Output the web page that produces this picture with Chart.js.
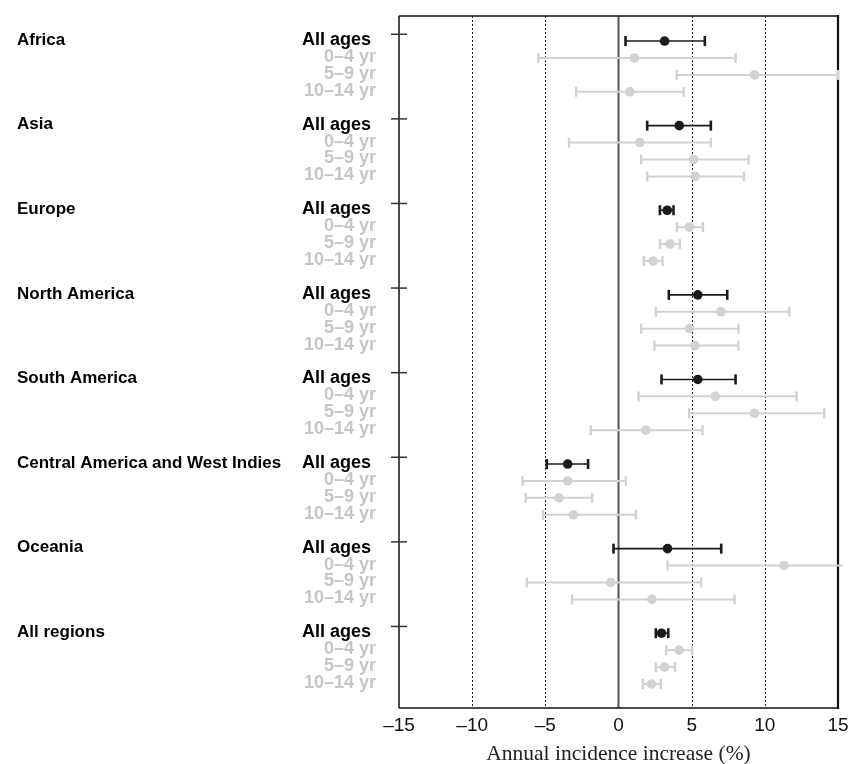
<!DOCTYPE html>
<html>
<head>
<meta charset="utf-8">
<script src="https://cdn.jsdelivr.net/npm/chart.js@4.4.1/dist/chart.umd.min.js"></script>
<style>
  html, body { margin: 0; padding: 0; background: #fff; }
  #wrap { width: 850px; height: 764px; position: relative; }
</style>
</head>
<body>
<div id="wrap"><canvas id="myChart" width="850" height="764"></canvas></div>
<script>
// regions top to bottom, and the age rows inside each region
const regions = ['Africa', 'Asia', 'Europe', 'North America', 'South America',
  'Central America and West Indies', 'Oceania', 'All regions'];
const ageGroups = ['All ages', '0–4 yr', '5–9 yr', '10–14 yr'];

// annual incidence increase (%) with 95% CI, one value per region
const allAgesEst  = [3.15, 4.15, 3.33, 5.42, 5.42, -3.47, 3.35, 2.94];
const allAgesLow  = [0.48, 1.96, 2.83, 3.44, 2.94, -4.90, -0.34, 2.55];
const allAgesHigh = [5.90, 6.31, 3.76, 7.43, 8.00, -2.08, 7.02, 3.40];

const age0to4Est  = [1.09, 1.46, 4.85, 7.00, 6.61, -3.47, 11.31, 4.15];
const age0to4Low  = [-5.47, -3.38, 3.99, 2.55, 1.37, -6.55, 3.35, 3.26];
const age0to4High = [8.00, 6.31, 5.77, 11.67, 12.17, 0.50, 15.35, 5.04];

const age5to9Est  = [9.30, 5.13, 3.53, 4.85, 9.30, -4.06, -0.53, 3.15];
const age5to9Low  = [3.97, 1.55, 2.83, 1.55, 4.83, -6.34, -6.27, 2.55];
const age5to9High = [15.00, 8.89, 4.19, 8.20, 14.06, -1.80, 5.65, 3.85];

const age10to14Est  = [0.77, 5.24, 2.37, 5.22, 1.87, -3.08, 2.28, 2.26];
const age10to14Low  = [-2.90, 1.96, 1.73, 2.46, -1.89, -5.16, -3.17, 1.66];
const age10to14High = [4.45, 8.57, 3.01, 8.20, 5.74, 1.18, 7.93, 2.89];

const xTicks = [-15, -10, -5, 0, 5, 10, 15];

const BLACK = '#1b1b1b';
const GREY = '#d2d2d2';
const ROWS_PER_REGION = 5; // 4 age rows + one blank row

function rows(est, low, high, ageIdx) {
  return est.map((v, g) => ({ x: v, y: g * ROWS_PER_REGION + ageIdx, lo: low[g], hi: high[g] }));
}

const greyData = [].concat(
  rows(age0to4Est, age0to4Low, age0to4High, 1),
  rows(age5to9Est, age5to9Low, age5to9High, 2),
  rows(age10to14Est, age10to14Low, age10to14High, 3)
);
const blackData = rows(allAgesEst, allAgesLow, allAgesHigh, 0);

// frame, grid lines, the little y ticks and the error bars
const backdrop = {
  id: 'backdrop',
  beforeDatasetsDraw(chart) {
    const { ctx, chartArea: a, scales: { x, y } } = chart;
    ctx.save();
    // dotted grid lines
    ctx.strokeStyle = '#222';
    ctx.lineWidth = 1;
    ctx.setLineDash([2, 2]);
    [-10, -5, 5, 10].forEach(v => {
      const px = Math.round(x.getPixelForValue(v)) + 0.5;
      ctx.beginPath(); ctx.moveTo(px, a.top); ctx.lineTo(px, a.bottom); ctx.stroke();
    });
    ctx.setLineDash([]);
    // zero line
    ctx.strokeStyle = '#555';
    ctx.lineWidth = 2;
    const z = x.getPixelForValue(0);
    ctx.beginPath(); ctx.moveTo(z, a.top); ctx.lineTo(z, a.bottom); ctx.stroke();
    // frame
    ctx.strokeStyle = '#111';
    ctx.lineWidth = 1.5;
    ctx.beginPath();
    ctx.moveTo(a.left, a.top); ctx.lineTo(a.right, a.top);
    ctx.moveTo(a.left, a.bottom); ctx.lineTo(a.right, a.bottom);
    ctx.moveTo(a.left, a.top); ctx.lineTo(a.left, a.bottom);
    ctx.stroke();
    ctx.lineWidth = 2.2;
    ctx.beginPath(); ctx.moveTo(a.right, a.top - 1); ctx.lineTo(a.right, a.bottom + 1); ctx.stroke();
    // y ticks crossing the left axis, one per region
    ctx.lineWidth = 1.5;
    ctx.strokeStyle = '#333';
    regions.forEach((r, g) => {
      const py = y.getPixelForValue(g * ROWS_PER_REGION - 0.4);
      ctx.beginPath(); ctx.moveTo(a.left - 8, py); ctx.lineTo(a.left + 8, py); ctx.stroke();
    });

    // error bars
    chart.data.datasets.forEach(ds => {
      const isBlack = ds.label === 'All ages';
      ctx.strokeStyle = ds.borderColor;
      ds.data.forEach(d => {
        const py = y.getPixelForValue(d.y);
        const x0 = x.getPixelForValue(d.lo);
        const x1 = x.getPixelForValue(d.hi);
        ctx.lineWidth = isBlack ? 1.6 : 2;
        ctx.beginPath(); ctx.moveTo(x0, py); ctx.lineTo(Math.min(x1, a.right + 5), py); ctx.stroke();
        ctx.lineWidth = isBlack ? 2.6 : 2.4;
        [d.lo, d.hi].forEach(v => {
          if (v > 15.01) return; // runs off the axis, no cap
          const px = x.getPixelForValue(v);
          ctx.beginPath(); ctx.moveTo(px, py - 5); ctx.lineTo(px, py + 5); ctx.stroke();
        });
      });
    });
    ctx.restore();
  }
};

// row labels on the left
const rowLabels = {
  id: 'rowLabels',
  afterDraw(chart) {
    const { ctx, scales: { y } } = chart;
    ctx.save();
    ctx.textBaseline = 'middle';
    regions.forEach((r, g) => {
      const base = g * ROWS_PER_REGION;
      ctx.font = 'bold 17px "Liberation Sans", Arial, sans-serif';
      ctx.fillStyle = '#000';
      ctx.textAlign = 'left';
      ctx.fillText(r, 17, y.getPixelForValue(base) - 1);
      ageGroups.forEach((lab, k) => {
        ctx.font = 'bold 18px "Liberation Sans", Arial, sans-serif';
        ctx.textAlign = 'right';
        ctx.fillStyle = k === 0 ? '#000' : '#c6c6c6';
        ctx.fillText(lab, k === 0 ? 371 : 376, y.getPixelForValue(base + k) - 1);
      });
    });
    ctx.restore();
  }
};

new Chart(document.getElementById('myChart'), {
  type: 'scatter',
  data: {
    datasets: [
      { label: 'Age groups', data: greyData, backgroundColor: GREY, borderColor: GREY,
        pointRadius: 4.8, pointBorderWidth: 0 },
      { label: 'All ages', data: blackData, backgroundColor: BLACK, borderColor: BLACK,
        pointRadius: 4.8, pointBorderWidth: 0 }
    ]
  },
  options: {
    responsive: false,
    animation: false,
    layout: { padding: { left: 399, right: 12, top: 16, bottom: 0 } },
    plugins: { legend: { display: false }, tooltip: { enabled: false } },
    scales: {
      x: {
        type: 'linear',
        min: -15, max: 15,
        afterBuildTicks: s => { s.ticks = xTicks.map(v => ({ value: v })); },
        afterFit: s => { s.height = 56; s.paddingLeft = 0; s.paddingRight = 0; },
        grid: { display: false, drawTicks: false },
        border: { display: false },
        ticks: {
          padding: 6,
          color: '#111',
          font: { family: '"Liberation Sans", Arial, sans-serif', size: 19 },
          callback: v => String(v).replace('-', '–')
        },
        title: {
          display: true,
          text: 'Annual incidence increase (%)',
          color: '#222',
          padding: { top: 0, bottom: -1 },
          font: { family: '"Liberation Serif", "Times New Roman", serif', size: 21.5, lineHeight: 1.0 }
        }
      },
      y: {
        type: 'linear',
        reverse: true,
        min: -1.48, max: 39.42,
        display: false
      }
    }
  },
  plugins: [backdrop, rowLabels]
});
</script>
</body>
</html>
